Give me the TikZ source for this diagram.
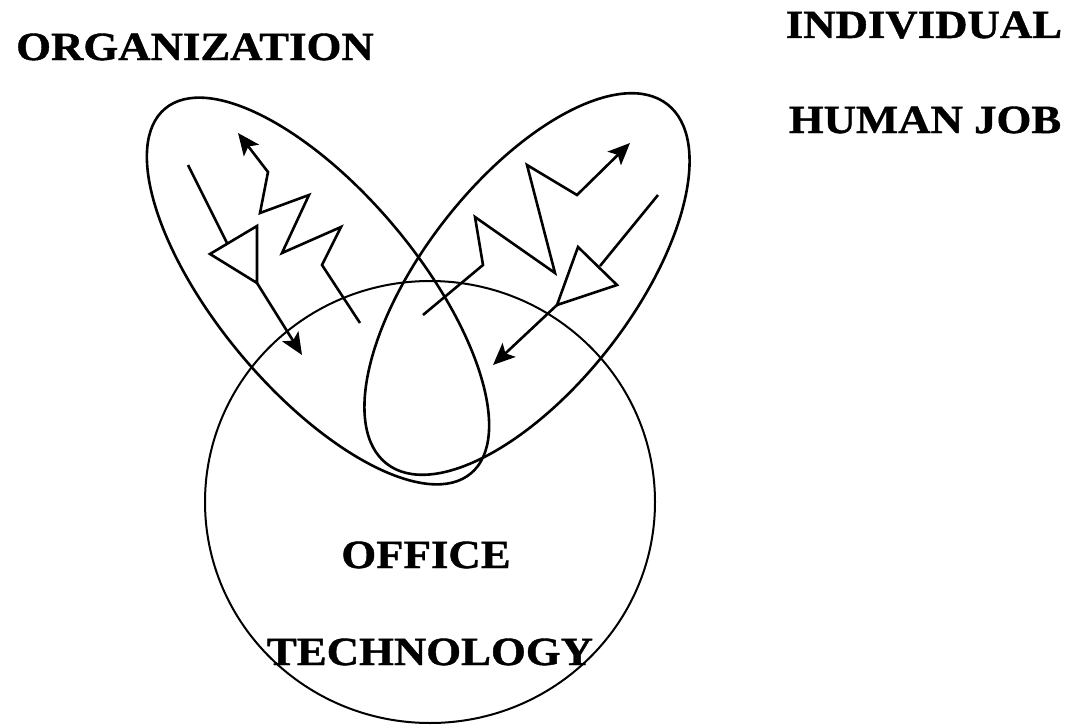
\documentclass[tikz,border=0pt]{standalone}
\usepackage{fontspec}
\usepackage{tikz}
\usetikzlibrary{arrows.meta}
\newfontfamily\labelfont[FakeStretch=1.12,FakeBold=1]{Liberation Serif}

\tikzset{
  oval/.style={line width=2.6pt},
  zig/.style={line width=2.6pt, line join=miter},
  tip/.style={-{Stealth[length=22pt,width=19pt,inset=5pt]}},
  lbl/.style={anchor=base, inner sep=0pt, font=\labelfont\bfseries\fontsize{40}{48}\selectfont}
}

\begin{document}
\begin{tikzpicture}[x=1pt,y=-1pt]
 \useasboundingbox (0,0) rectangle (1071,725);

 % Office technology circle
 \draw[line width=2pt] (430,502) ellipse [x radius=225, y radius=221];

 % Organization oval
 \draw[oval] (318,291) ellipse [x radius=238, y radius=100, rotate=-50];

 % Individual human job oval
 \draw[oval] (527,284) ellipse [x radius=228, y radius=104, rotate=52];

 % Left oval: straight arrow through triangle
 \coordinate (ltop) at (188,165);
 \coordinate (lmeet) at (227,243);
 \coordinate (ltri) at (257,283);
 \coordinate (lend) at (302,355);
 \draw[zig] (ltop) -- (lmeet);
 \draw[zig] (210,254) -- (257,226) -- (ltri) -- cycle;
 \draw[zig,tip] (ltri) -- (lend);

 % Left oval: zigzag arrow
 \draw[zig,tip] (360,323) -- (322,265) -- (341,227) -- (282,253) -- (309,195)
   -- (260,213) -- (268,172) -- (238,133);

 % Right oval: zigzag arrow
 \draw[zig,tip] (423,315) -- (483,265) -- (475,217) -- (555,273) -- (527,165)
   -- (577,195) -- (630,143);

 % Right oval: straight arrow through triangle
 \coordinate (rtop) at (658,195);
 \coordinate (rmeet) at (600,266);
 \coordinate (rtri) at (557,305);
 \coordinate (rend) at (493,365);
 \draw[zig] (rtop) -- (rmeet);
 \draw[zig] (578,247) -- (617,285) -- (rtri) -- cycle;
 \draw[zig,tip] (rtri) -- (rend);

 % Labels
 \node[lbl] (org) at (195,60) {ORGANIZATION};
 \node[lbl] (ind) at (924,38) {INDIVIDUAL};
 \node[lbl] (job) at (925,133) {HUMAN JOB};
 \node[lbl] (off) at (426,568) {OFFICE};
 \node[lbl] (tech) at (430,665) {TECHNOLOGY};

\end{tikzpicture}
\end{document}
